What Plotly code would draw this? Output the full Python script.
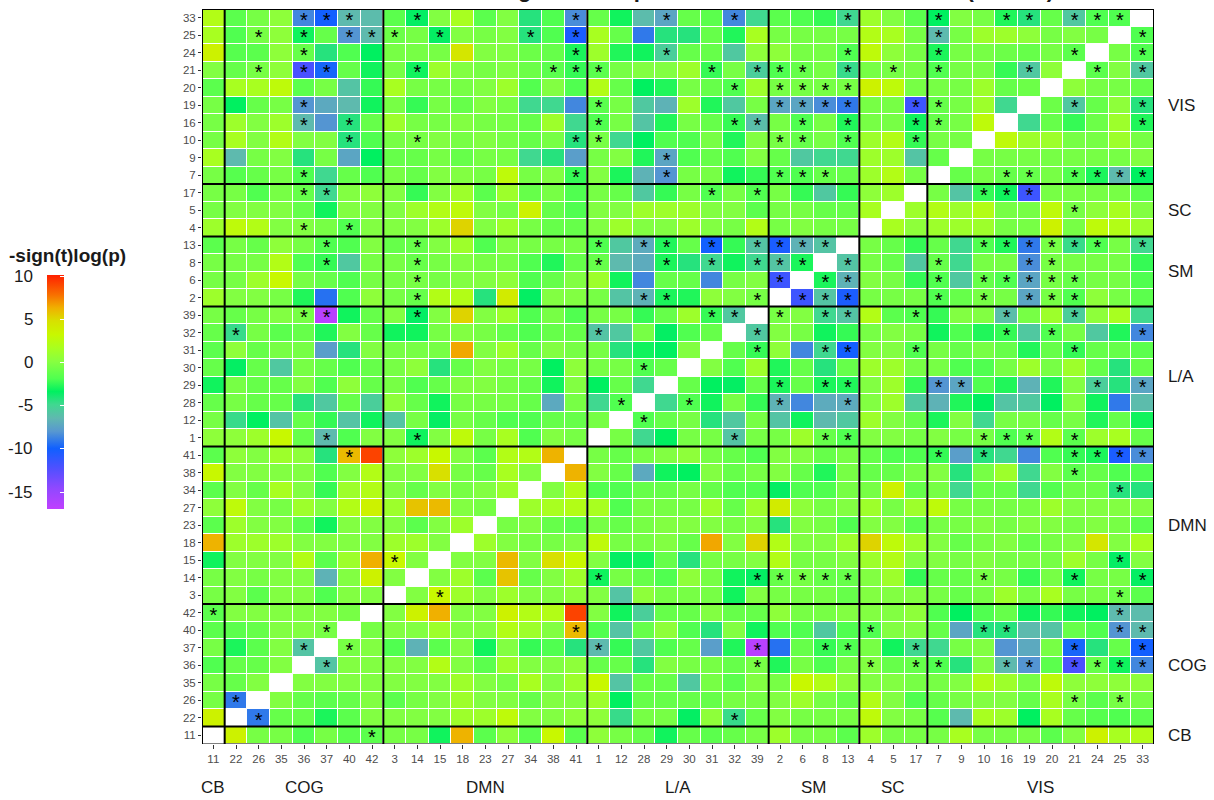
import plotly.graph_objects as go

# ---------------- components per network (display order) ----------------
group_names = ["CB", "COG", "DMN", "L/A", "SM", "SC", "VIS"]
cb_comps = [11]
cog_comps = [22, 26, 35, 36, 37, 40, 42]
dmn_comps = [3, 14, 15, 18, 23, 27, 34, 38, 41]
la_comps = [1, 12, 28, 29, 30, 31, 32, 39]
sm_comps = [2, 6, 8, 13]
sc_comps = [4, 5, 17]
vis_comps = [7, 9, 10, 16, 19, 20, 21, 24, 25, 33]

# ---------------- -sign(t)log(p), lower triangle ----------------
# each row lists values for all components that come before it in the display order
vis_rows = {
    33: [2.2, -1.4, -0.4, 0.5, -8.5, -10, -6.3, -6.2, -1.4, -3.4, 0, 1.7, -1.4, 0, -4.2, -1.8, -8.3,
         -1, -3, -6.2, -7.3, -1, -1.4, -8.5, -4.8, -1.4, -1.8, -2.3, -4.8, 1.2, 0, -1.4,
         -3.3, 0, -0.4, -2.7, -4.2, -1, -5.6, -1.8, -1.8],
    25: [1.7, -1.8, -0.4, 0.5, -3, -1, -8, -6.3, -0.8, -0.4, -3.4, 0, -0.4, 0, -4.2, -1.8, -10.3,
         1.7, -1, -9, -4.2, -4.2, -1, -2.7, 1.7, -0.4, -0.4, -0.4, -0.4, 2.2, 1.7, -0.4,
         -6.3, -0.4, 1.2, 1.2, 0.5, -0.4, 0, -0.4],
    24: [3.7, -1.6, -1.4, 0.5, -1, -4.2, -1.8, -3.3, -0.4, -0.4, -0.4, 4.5, 0, 0, -0.8, -1, -2.8,
         1.2, -2.7, -3, -5.3, -1, -1, -5.6, 0.5, 0.5, -0.4, -0.4, -1.8, 2.8, 0.5, -0.4,
         -2.8, -0.4, -0.4, -0.8, -1, -0.4, -1.4],
    21: [0, -1, -0.4, 0.5, -12, -9.7, -1, -3, -0.4, -3, 1.2, 0, -0.4, 0, -0.8, -1.4, -2.3,
         -1.4, -0.4, 0, 0, 1.2, -2.3, -0.4, -5.3, -1.8, -1, -0.4, -4.6, -0.4, -0.4, -0.4,
         -1.8, -0.4, -0.4, -2.3, -5.6, 0.5],
    20: [-1.4, 1.7, 1.7, 2.8, -1.4, -0.4, -5.8, -2.3, 1.7, -0.4, -0.4, -0.4, 0, 1.2, -1.7, 0, -1.8,
         2.2, -1, -3.3, -2.7, -0.4, -1, -1.8, 1.2, -0.4, -0.4, -0.4, -0.4, 3.7, 2.8, -0.4,
         -0.4, -0.4, 1.2, -1, -0.8],
    19: [-0.4, -3.3, -1, -0.4, -8, -7.1, -6.3, -3, -0.4, -2.3, -0.4, -1, 0, -0.4, -4.8, -4.8, -8.5,
         -1.4, -0.4, -5.6, -6.7, 1.2, -2.7, -5.6, -0.4, -7.3, -7.3, -8.3, -9, -0.4, -0.4, -11.5,
         -1, -0.4, 1.2, -4.8],
    16: [-0.4, 1.2, 0, 1.2, -6.3, -8, -4.2, -1, 1.2, -0.4, -0.4, 0, -0.4, -0.4, -1, 1.2, -4.8,
         -1.8, -0.4, -5.8, -2.7, -0.4, -1, -2.3, -6.1, -0.4, -1.8, -0.4, -2.7, -0.4, -0.4, -3,
         -1, -0.4, 2.8],
    10: [-0.4, 1.7, 0, 2.2, 0, 0, -4.2, -1.8, -0.4, -0.4, 0, -0.4, 0, -0.4, -1, -0.4, -4.2,
         -0.4, -4.8, -3.3, -1.8, -1.8, -0.4, -2.7, 0, -0.4, -1, -0.4, -1.8, 1.2, 2.2, -2.3,
         -0.4, -0.4],
    9: [1.7, -6.3, -0.4, 0, -4.2, -0.4, -7.3, -3.3, -1, -1, -0.4, -1, -0.4, -0.4, -4.8, -4.2, -7.6,
        -0.4, 0, -2.7, -7.3, -1.8, -1, -1.8, 0, -1, -5.6, -4.8, -4.8, 1.2, 1.2, -5.8,
        -1],
    7: [-0.4, -1.6, -1, -0.4, -1.8, -4.8, -1, -1.8, -0.4, -1, 0, 0, -0.4, 2.8, -0.4, 0, -2.3,
        0, -2.8, -6.7, -8, -0.4, -0.4, -3, -2.3, -1.8, -1.8, -1, -1, 1.2, 2.2, -0.4],
}
sc_rows = {
    17: [-0.4, -0.4, -1.8, -0.4, -1, -4.8, 0, 0.5, 0, -2.3, 0, 1.2, -1.4, 1.2, -1, -0.4, -1.8,
         -0.4, -1, -5.6, -2.3, -0.4, -1.8, -0.4, -1.8, -0.4, -2.3, -5.6, -2.3, 0.5, 1.2],
    5: [-0.4, 0, 0, 0, -1, -3, 0, 0, 0, 1.2, 2.2, 2.8, 0, -0.4, 3.7, -1, -1.8,
        0, 0, 1.2, 1.2, 1.2, 0, 0, -1.4, -0.4, -0.4, -1, -1, 1.7],
    4: [1.2, 2.8, 2.2, 0, 0, -0.4, -1.8, 0, 0, 0, 1.2, 5.3, 0, 1.2, -0.4, -1, -1,
        0, 1.2, 0, 0, 1.2, 0, -0.4, 2.2, -0.4, 0, -0.4, -0.4],
}
sm_rows = {
    13: [-1.4, -0.4, -1, 0.5, -0.4, -1.8, -1.8, 0, -1, -1, 0, 1.2, -1.8, 0, -0.4, -0.4, -0.4,
         -1.8, -5.6, -7, -2.7, -1, -10, -2.3, -5.8, -10.3, -6.7, -5.8],
    8: [-0.4, -0.4, -0.4, 2.2, -1.8, -2.3, -5.6, -0.4, -0.4, -1, -0.4, 0, -0.4, -0.4, -1.8, -2.7, -1,
        -1, -6.3, -7, -2.8, -4.2, -4.8, -3, -4.8, -5.8, -2.8],
    6: [-0.4, -0.4, 1.2, 3.3, -0.4, -1, -1.8, -0.4, -0.4, -0.4, -0.4, 0, 0, 0.5, -1.8, -1, 0,
        1.2, -3, -8.5, -1, -1, -8.5, -0.4, 0, -11.5],
    2: [1.2, 0, 0, -0.4, -2.7, -9.3, -1.8, 0.5, -0.4, -1, 2.2, 2.2, -4.2, 4.2, -3.4, 0, 0,
        -0.4, -5.8, -6.7, -2.8, -2.7, 0.5, 0, -0.4],
}
la_rows = {
    39: [-0.4, -1, -0.4, 0, -0.4, -16.5, -3, -1, 0, -3.4, 0, 5.3, 0, 1.2, -1.8, -0.4, -1.8,
         -0.4, -0.4, -2.3, -1, 1.2, -2.3, -5.6],
    32: [-1, -4.6, -0.4, -1.4, -1, -2.7, 0, -1, -3, -3, -0.4, 0, -0.4, -1, -1.8, -1, -1,
         -5.8, -5.6, -0.4, -3.4, -1.8, -1],
    31: [-1.4, 0.5, -1, -0.4, -0.4, -7.6, -4.2, 0, -0.4, -0.4, -0.4, 6.6, 0, 1.2, -1, 0, -0.4,
         -0.4, -4.2, -3, -3.3, 0],
    30: [-1, -3.4, -1, -5.6, -0.4, -1, -1.8, -1, -0.4, 0.5, -4.2, -1, 0, -0.4, -0.4, -3.3, 0.5,
         -0.4, -0.4, -1.8, -1],
    29: [-3, -0.4, -1, -1, 0, -1.8, 0.5, -1, -0.4, -1.8, -1, 0, 0, -0.4, -1, -3, 0,
         -3.3, -1, -4.8],
    28: [-1, -0.4, -1, -1, -4.2, -5.6, -1, -5.3, 0.5, -1, -3, -0.4, -0.4, -0.4, -1, -7.1, -0.4,
         -4.8, -1.8],
    12: [-0.4, -4.6, -3.3, -5.8, -1, -2.3, -5.8, -3, -5.8, -0.4, -3.4, -0.4, -1, -1.8, -1.8, -1, -1,
         -0.4],
    1: [0.5, 0.5, 1.2, 3.3, -1, -6.3, -1.8, 0, 0, -3, 0, 2.8, -0.4, 1.7, -1.8, 0, -0.4],
}
dmn_rows = {
    41: [-1.4, 0.5, 0, 1.2, 0.5, -4.2, 6.1, 9.2, 0.5, 1.2, 3.3, 0, -1.4, 2.2, 2.2, 6.3],
    38: [3.3, 0, 0, 0, 0, -1.8, 0, 2.2, 0, 0, 4.9, -0.4, -1, 1.7, 0],
    34: [-1.4, 0, -1, 1.7, 0, -2.3, 1.2, 2.2, 0, -1, 0, -0.4, 0, 1.2],
    27: [0.5, 2.8, 0, -0.4, 1.2, 0, 2.2, 3.7, 1.2, 5.8, 6.1, 0, -0.4],
    23: [-1.4, 1.2, 0, 0, -1.4, -3, 0, 0, 0, -1.4, 0, 1.2],
    18: [6.3, 1.2, 1.2, 1.2, 0, 0, 0, 0, 1.2, 1.2, 0],
    15: [-3, 0, 0, 0, 2.2, -1.4, 1.2, 6.4, 3.3, 0],
    14: [-0.4, 0, -0.4, 0, 0, -6.7, 0, 3.7, 0],
    3: [-0.4, 0, -1.4, 0, 0, -1.8, 0, 0],
}
cog_rows = {
    42: [-1.4, 0, 0, 0, 0, 0, -0.4],
    40: [-1.4, -1.4, -1, 0, 0, -0.4],
    37: [-0.4, -2.8, -1.4, 0, -5.8],
    36: [-1.8, -1, -1, 0],
    35: [-0.4, -1, 0],
    26: [-0.4, -9],
    22: [3.7],
}

# ---------------- significant pairs (row component: column components) ----------------
vis_stars = {
    33: [36, 37, 40, 14, 41, 29, 32, 13, 7, 16, 19, 21, 24, 25],
    25: [26, 36, 40, 42, 3, 15, 34, 41, 7],
    24: [36, 41, 29, 13, 7, 21],
    21: [26, 36, 37, 14, 38, 41, 1, 31, 39, 2, 6, 13, 5, 7, 19],
    20: [32, 2, 6, 8, 13],
    19: [36, 1, 2, 6, 8, 13, 17, 7],
    16: [36, 40, 1, 32, 39, 6, 13, 17, 7],
    10: [40, 14, 41, 1, 2, 6, 13, 17],
    9: [29],
    7: [36, 41, 29, 2, 6, 8],
}
sc_stars = {17: [36, 37, 31, 39], 4: [36, 40]}
sm_stars = {
    13: [37, 14, 1, 28, 29, 31, 39, 2, 6, 8],
    8: [37, 14, 1, 29, 31, 39, 2, 6],
    6: [14, 2],
    2: [14, 28, 29, 39],
}
la_stars = {39: [36, 37, 14, 31, 32], 32: [22, 1], 30: [28], 28: [12], 1: [37, 14]}
dmn_stars = {41: [40], 15: [3]}
cog_stars = {42: [11], 40: [37], 37: [36], 26: [22]}

# colour scale (value, colour)
scale_values = [-16.9, -14.5, -12.2, -9.9, -7.9, -6.4, -4.8, -3.3, -1.8, 0.2, 1.7, 3.3, 4.9, 6.4, 7.9, 10.2]
scale_colors = ["#C040FF", "#9048FF", "#5050FF", "#1060FF", "#5898D0", "#60B8B0", "#40D890", "#00F060",
                "#50FF50", "#88FF40", "#A8FF20", "#C8F800", "#D8E000", "#F0B000", "#F87000", "#FF2000"]
legend_ticks = [10, 5, 0, -5, -10, -15]
title_text = "Static FNC Differences Using Two-Sample t-Tests Across All Networks (SZ\u2212HC)"

# ---------------- build matrix ----------------
group_comps = [cb_comps, cog_comps, dmn_comps, la_comps, sm_comps, sc_comps, vis_comps]
order = [c for g in group_comps for c in g]
pos = {c: i for i, c in enumerate(order)}
n = len(order)
z = [[None] * n for _ in range(n)]
for rows in (vis_rows, sc_rows, sm_rows, la_rows, dmn_rows, cog_rows):
    for comp, vals in rows.items():
        i = pos[comp]
        assert len(vals) == i, (comp, len(vals), i)
        for j, v in enumerate(vals):
            z[i][j] = v
            z[j][i] = v

sx, sy = [], []
for st in (vis_stars, sc_stars, sm_stars, la_stars, dmn_stars, cog_stars):
    for comp, cols in st.items():
        for c in cols:
            i, j = pos[comp], pos[c]
            sx += [j, i]
            sy += [i, j]

zmin, zmax = scale_values[0], scale_values[-1]
colorscale = [[(v - zmin) / (zmax - zmin), col] for v, col in zip(scale_values, scale_colors)]

FONT = "Liberation Sans, Arial, sans-serif"
W, H = 1214, 800
ML, MR, MT, MB = 202, 60, 9, 56
PW, PH = W - ML - MR, H - MT - MB
PLOT_BOTTOM = H - MB

# colour bar geometry (pixels)
CB_LEFT, CB_TOP, CB_LEN, CB_THICK = 47, 274.5, 234, 17

fig = go.Figure()
fig.add_trace(go.Heatmap(
    z=z, x=list(range(n)), y=list(range(n)),
    colorscale=colorscale, zmin=zmin, zmax=zmax,
    xgap=1, ygap=1, hoverongaps=False,
    colorbar=dict(
        xref="paper", yref="paper",
        x=(CB_LEFT - ML) / PW, xanchor="left",
        y=(PLOT_BOTTOM - (CB_TOP + CB_LEN)) / PH, yanchor="bottom",
        len=CB_LEN, lenmode="pixels", thickness=CB_THICK, thicknessmode="pixels",
        xpad=0, ypad=0, outlinewidth=0,
        tickvals=legend_ticks, ticks="inside", ticklen=4, tickcolor="white", tickwidth=1,
        showticklabels=False,
    ),
))

star_dy = 0.24
fig.add_trace(go.Scatter(
    x=sx, y=[v - star_dy for v in sy], mode="text", text=["*"] * len(sx),
    textfont=dict(family=FONT, size=20, color="black"), hoverinfo="skip", showlegend=False,
))

# network boundaries
sizes = [len(g) for g in group_comps]
edges = [-0.5]
for s in sizes:
    edges.append(edges[-1] + s)
shapes = []
for k, b in enumerate(edges):
    shapes.append(dict(type="line", xref="x", yref="y", x0=b, x1=b, y0=-0.5, y1=n - 0.5,
                       line=dict(color="black", width=2)))
    shapes.append(dict(type="line", xref="x", yref="y", x0=-0.5, x1=n - 0.5, y0=b, y1=b,
                       line=dict(color="black", width=1.2 if k == 0 else 2)))

annotations = []
label_shift = {"VIS": -0.5}
for name, lo, s in zip(group_names, edges[:-1], sizes):
    c = lo + 0.5 + (s - 1) / 2
    annotations.append(dict(xref="paper", yref="y", x=1, xshift=12, y=c + label_shift.get(name, 0),
                            text=name, showarrow=False, xanchor="left", yanchor="middle",
                            font=dict(family=FONT, size=17, color="#1a1a1a")))
    annotations.append(dict(xref="x", yref="paper", x=c, y=(PLOT_BOTTOM - 787) / PH,
                            text=name, showarrow=False, xanchor="center", yanchor="middle",
                            font=dict(family=FONT, size=17, color="#1a1a1a")))

# colour bar labels and title
for v in legend_ticks:
    py = CB_TOP + (zmax - v) / (zmax - zmin) * CB_LEN
    annotations.append(dict(xref="paper", yref="paper", x=(35 - ML) / PW, y=(PLOT_BOTTOM - py) / PH,
                            text=str(v), showarrow=False, xanchor="right", yanchor="middle",
                            font=dict(family=FONT, size=17, color="#1a1a1a")))
annotations.append(dict(xref="paper", yref="paper", x=(7 - ML) / PW, y=(PLOT_BOTTOM - 255) / PH,
                        text="<b>-sign(t)log(p)</b>", showarrow=False, xanchor="left", yanchor="middle",
                        font=dict(family=FONT, size=19, color="#1a1a1a")))
annotations.append(dict(xref="paper", yref="paper", x=(640 - ML) / PW, y=1 + 5.5 / PH,
                        text="<b>" + title_text + "</b>", showarrow=False, xanchor="center",
                        yanchor="bottom", font=dict(family=FONT, size=22, color="#1a1a1a")))

axis_common = dict(
    tickmode="array", tickvals=list(range(n)), ticktext=[str(c) for c in order],
    ticks="outside", ticklen=4, tickcolor="#333333", tickwidth=1,
    tickfont=dict(family=FONT, size=11.5, color="#4d4d4d"),
    showgrid=False, zeroline=False, showline=False, range=[-0.5, n - 0.5], fixedrange=True,
)
fig.update_layout(
    width=W, height=H,
    margin=dict(l=ML, r=MR, t=MT, b=MB, autoexpand=False),
    paper_bgcolor="white", plot_bgcolor="white",
    xaxis=axis_common, yaxis=dict(axis_common, ticklen=3),
    shapes=shapes, annotations=annotations,
    showlegend=False,
)
fig.write_html("out.html")
